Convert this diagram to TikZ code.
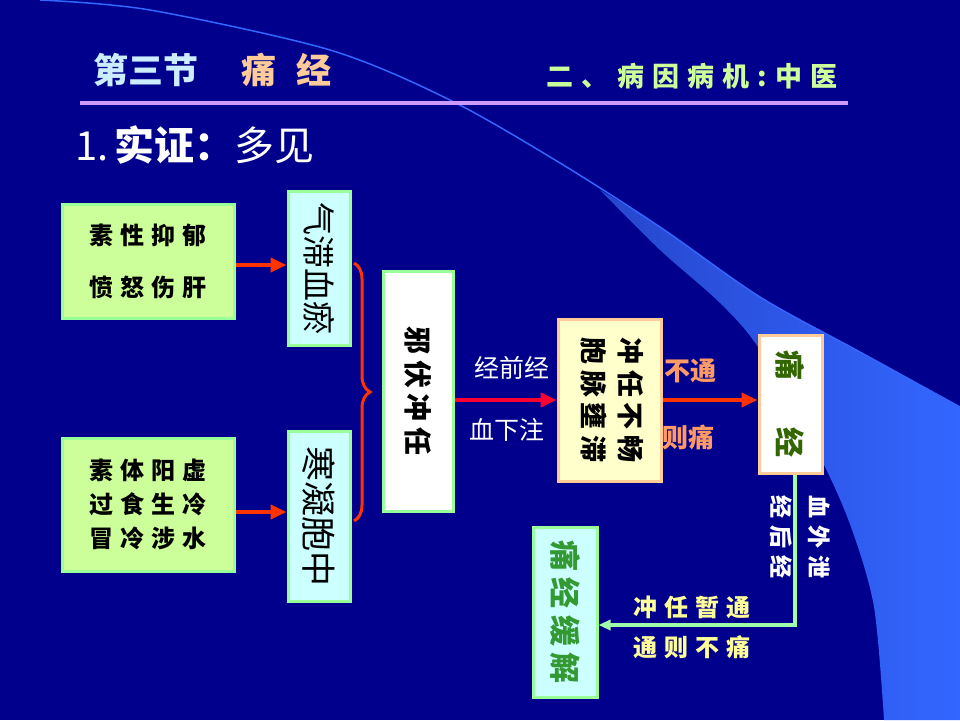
\documentclass[tikz,border=0pt]{standalone}
\usepackage{fontspec}
\usepackage{graphicx}
\usetikzlibrary{arrows.meta,decorations.pathreplacing}
\newfontfamily\cjk{Noto Sans CJK SC}
\newfontfamily\cjksp[LetterSpace=20]{Noto Sans CJK SC}
\newfontfamily\cjkwide[LetterSpace=30]{Noto Sans CJK SC}
\newcommand\fsz[1]{\fontsize{#1}{#1}\selectfont}
\definecolor{bg}{RGB}{0,0,140}
\definecolor{swoosh}{RGB}{51,102,255}
\definecolor{swooshdark}{RGB}{38,70,205}
\definecolor{titleblue}{RGB}{204,236,255}
\definecolor{peach}{RGB}{255,204,153}
\definecolor{ygreen}{RGB}{204,255,153}
\definecolor{lavender}{RGB}{204,153,255}
\definecolor{fillgreen}{RGB}{204,255,153}
\definecolor{bordgreen}{RGB}{153,255,153}
\definecolor{fillcyan}{RGB}{204,255,255}
\definecolor{fillyellow}{RGB}{255,255,204}
\definecolor{arrred}{RGB}{255,51,0}
\definecolor{arrpink}{RGB}{255,0,51}
\definecolor{orangelab}{RGB}{255,153,102}
\definecolor{mint}{RGB}{160,255,170}
\definecolor{darkgreen}{RGB}{51,102,0}
\definecolor{lightyellow}{RGB}{255,255,153}
\definecolor{hgreen}{RGB}{51,153,51}
\begin{document}
\begin{tikzpicture}[x=1pt,y=-1pt,
  box/.style={line width=3pt, inner sep=0pt, text=black, font=\cjk\bfseries},
  greenbox/.style={box, draw=bordgreen, fill=fillgreen},
  cyanbox/.style={box, draw=bordgreen, fill=fillcyan},
  redarrow/.style={draw=arrred, line width=4pt, -{Triangle[length=16pt,width=14pt]}},
  whitelab/.style={text=white, font=\cjk\fsz{25}},
  vlab/.style={text=white, font=\cjk\bfseries\fsz{22}}]
\fill[bg] (0,0) rectangle (960,720);
\useasboundingbox (0,0) rectangle (960,720);
% swoosh
\shade[left color=swooshdark, right color=swoosh]
  plot[smooth] coordinates {(600,190) (660,227) (760,297) (860,352) (960,407)}
  -- (960,720) -- (884,720)
  -- plot[smooth] coordinates {(884,720) (874,607) (851,527) (820,457) (760,350) (720,303) (660,250) (600,190)} -- cycle;
\draw[swoosh, line width=1.5pt] plot[smooth] coordinates {(40,0) (150,10) (330,50) (450,100) (560,163) (660,227) (760,297) (860,352) (960,407)};
% titles
\node[anchor=west, text=titleblue, font=\cjk\bfseries\fsz{35}] (t1) at (90,70) {第三节};
\node[anchor=west, text=peach, font=\cjk\bfseries\fsz{35}] (t2) at (238,70) {痛\hspace{20pt}经};
\node[text=ygreen, font=\cjkwide\bfseries\fsz{27}] (t3) at (692,76) {二、病因病机:中医};
\draw[lavender, line width=3.5pt] (80,103) -- (848,103);
\node[anchor=west, text=white, font=\cjk\fsz{40}] (t4) at (72,145) {1.\hspace{6pt}{\bfseries 实证：}多见};
% boxes
\node[greenbox, minimum width=172, minimum height=114, align=center, font=\cjkwide\bfseries\fsz{24}] (A) at (148,261) {素性抑郁\\[28pt]愤怒伤肝};
\node[greenbox, minimum width=172, minimum height=133, align=center, font=\cjkwide\bfseries\fsz{24}] (B) at (148,504.5) {素体阳虚\\[10pt]过食生冷\\[10pt]冒冷涉水};
\node[cyanbox, minimum width=62, minimum height=154] (C) at (319,268) {\rotatebox{-90}{\cjk\mdseries\fsz{33}气滞血瘀}};
\node[cyanbox, minimum width=62, minimum height=170] (D) at (319,516) {\rotatebox{-90}{\cjk\mdseries\fsz{35}寒凝胞中}};
\node[box, draw=bordgreen, fill=white, minimum width=70, minimum height=240] (E) at (418,391) {\rotatebox{-90}{\cjksp\bfseries\fsz{28}邪伏冲任}};
\node[box, draw=peach, fill=fillyellow, minimum width=103, minimum height=162] (F) at (609.5,400) {\rotatebox{-90}{\cjksp\bfseries\fsz{27}\begin{tabular}{@{}c@{}}冲任不畅\\[6pt]胞脉壅滞\end{tabular}}};
\node[box, draw=peach, fill=white, minimum width=63, minimum height=138] (G) at (790.5,404) {\rotatebox{-90}{\cjk\bfseries\fsz{30}\textcolor{darkgreen}{痛\hspace{48pt}经}}};
\node[cyanbox, minimum width=64, minimum height=170] (H) at (565,612) {\rotatebox{-90}{\cjksp\bfseries\fsz{31}\textcolor{hgreen}{痛经缓解}}};
% arrows
\draw[redarrow] (A.east |- 0,265) -- (C.west |- 0,265);
\draw[redarrow] (B.east |- 0,512) -- (D.west |- 0,512);
\draw[redarrow, draw=arrpink] (E.east |- F.west) -- (F.west);
\draw[redarrow] (F.east) -- (F.east -| G.west);
\coordinate (bend) at (795,625);
\draw[mint, line width=3.5pt, -{Triangle[length=12pt,width=10pt]}] (G.south -| bend) -- (bend) -- (bend -| H.east);
% brace
\draw[arrred, line width=3pt, decorate, decoration={brace, amplitude=16pt}] (354,263) -- (354,521);
% labels
\node[whitelab] (l1) at (512,368) {经前经};
\node[whitelab] (l2) at (507,430) {血下注};
\node[text=orangelab, font=\cjk\bfseries\fsz{26}] (l3) at (690,371) {不通};
\node[text=orangelab, font=\cjk\bfseries\fsz{26}] (l4) at (688,437) {则痛};
\node[vlab] (l5) at (798,537) {\rotatebox{-90}{\cjkwide\bfseries\fsz{23}\begin{tabular}{@{}c@{}}血外泄\\[12pt]经后经\end{tabular}}};
\node[text=lightyellow, font=\cjkwide\bfseries\fsz{24}] (l6) at (692,607) {冲任暂通};
\node[text=lightyellow, font=\cjkwide\bfseries\fsz{24}] (l7) at (692,647) {通则不痛};
\end{tikzpicture}
\end{document}
